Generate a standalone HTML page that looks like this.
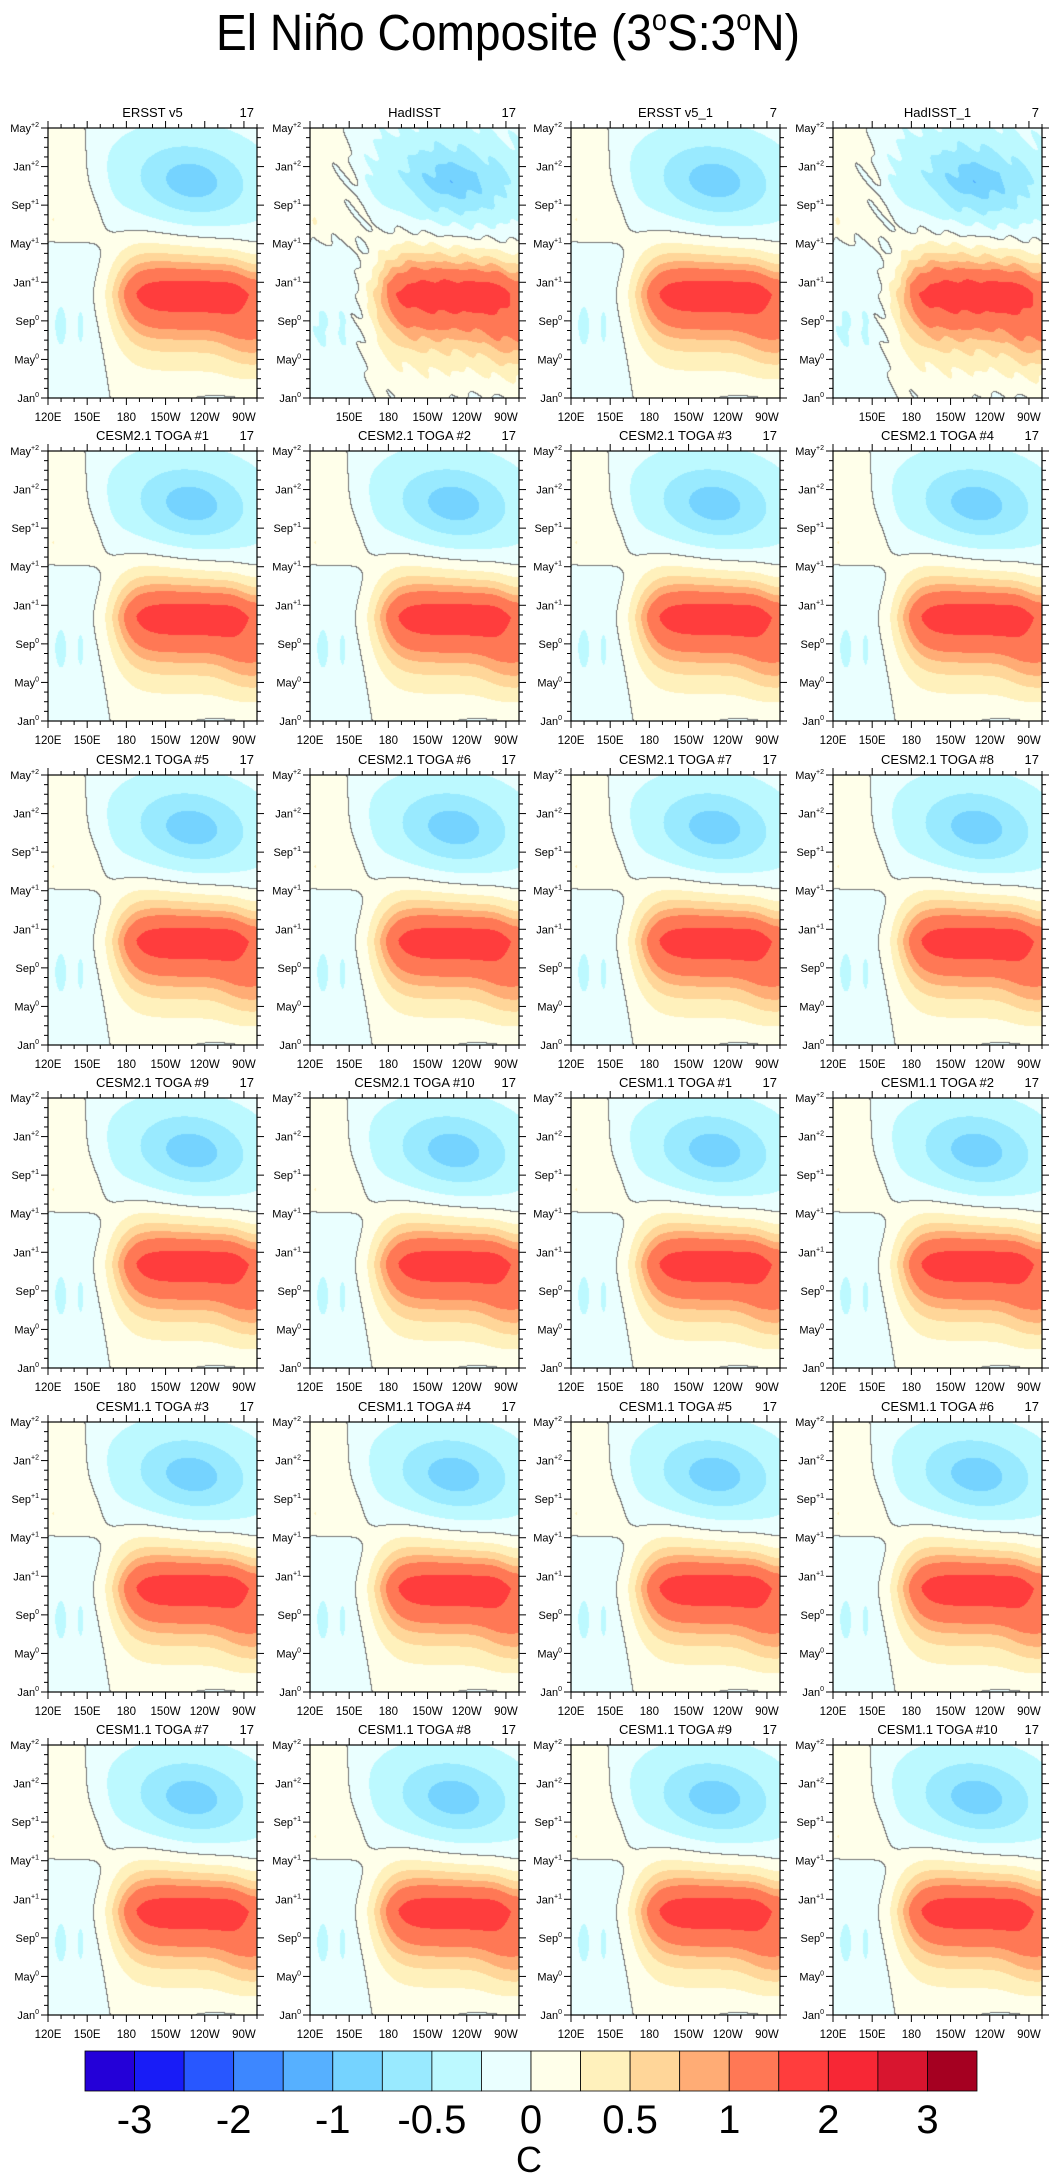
<!DOCTYPE html>
<html><head><meta charset="utf-8">
<style>
html,body{margin:0;padding:0;background:#fff;}
#root{position:relative;width:1058px;height:2179px;overflow:hidden;font-family:"Liberation Sans",sans-serif;}
canvas{position:absolute;}
svg{position:absolute;left:0;top:0;}
</style></head>
<body>
<div id="root">
<svg id="ov" width="1058" height="2179"></svg>
</div>
<script>
// ---- data ----
const panelTitles = ["ERSST v5","HadISST","ERSST v5_1","HadISST_1",
 "CESM2.1 TOGA #1","CESM2.1 TOGA #2","CESM2.1 TOGA #3","CESM2.1 TOGA #4",
 "CESM2.1 TOGA #5","CESM2.1 TOGA #6","CESM2.1 TOGA #7","CESM2.1 TOGA #8",
 "CESM2.1 TOGA #9","CESM2.1 TOGA #10","CESM1.1 TOGA #1","CESM1.1 TOGA #2",
 "CESM1.1 TOGA #3","CESM1.1 TOGA #4","CESM1.1 TOGA #5","CESM1.1 TOGA #6",
 "CESM1.1 TOGA #7","CESM1.1 TOGA #8","CESM1.1 TOGA #9","CESM1.1 TOGA #10"];
const panelCounts = [17,17,7,7,17,17,17,17,17,17,17,17,17,17,17,17,17,17,17,17,17,17,17,17];
const contourLevels = [-3,-2.5,-2,-1.5,-1,-0.75,-0.5,-0.25,0,0.25,0.5,0.75,1,1.5,2,2.5,3];
const levelColors = ["#2400D8","#181CF7","#2857FF","#3D87FF","#56B0FF","#75D3FF","#99EAFF","#BCF9FF","#EAFFFF",
 "#FFFFEA","#FFF1BC","#FFD699","#FFAC75","#FF7855","#FF3D3D","#F72735","#D8152F","#A50021"];
const colorbarLabels = ["-3","-2","-1","-0.5","0","0.5","1","2","3"];
const colorbarLabelValues = [-3,-2,-1,-0.5,0,0.5,1,2,3];
const lonTicks = [120,150,180,210,240,270];
const lonTickLabels = ["120E","150E","180","150W","120W","90W"];
const monthTicks = [0,4,8,12,16,20,24,28];
const monthTickNames = ["Jan","May","Sep","Jan","May","Sep","Jan","May"];
const monthTickSup = ["0","0","0","+1","+1","+1","+2","+2"];
// El Nino warm peak / La Nina cold peak (amplitude C, lon, month)
const warmPeak = [1.9, 177, 10.8];
const coldPeak = [-0.85, 230, 22.5];
// small secondary anomalies (lon deg E, month index, amplitude C, lon width, month width)
const blobLon   = [278, 130, 145, 250, 123, 124];
const blobMonth = [6, 7.5, 7.5, -0.8, 9, 18.5];
const blobAmp   = [0.45, -0.24, -0.22, -0.18, -0.05, 0.16];
const blobLonW  = [20, 5, 3.5, 30, 3, 3];
const blobMonW  = [3.5, 2.5, 2.5, 1.2, 6, 0.8];

// ---- layout ----
const LON0=120, LON1=280, T0=0, T1=28;
const PW=209, PH=270;
const colLeft = c => 48 + 261.7*c;
const rowTop = r => 128 + 323.4*r;
const NS="http://www.w3.org/2000/svg";
const ov=document.getElementById('ov');
const root=document.getElementById('root');
function el(tag, attrs, parent){const e=document.createElementNS(NS,tag);for(const k in attrs)e.setAttribute(k,attrs[k]);(parent||ov).appendChild(e);return e;}
const sig=x=>1/(1+Math.exp(-x));

function field(lon,t,p){
  // warm event
  const gW=sig((lon-warmPeak[1])/8)*(1-0.3*sig((lon-268)/4));
  const dt=t-warmPeak[2];
  const w=dt<0?5.0:(4.0-(lon-180)/100*0.8);
  let v=warmPeak[0]*gW*Math.exp(-Math.pow(Math.abs(dt/w),1.5));
  // cold event
  const tc=coldPeak[2]-(lon-coldPeak[1])*0.012;
  const cx=(lon-coldPeak[1])/48, ct=(t-tc)/4.3;
  v+=coldPeak[0]*Math.exp(-Math.pow(cx*cx+ct*ct,0.75));
  v+=-0.1*sig((t-(17.2-(lon-180)*0.012))/0.6)*sig((lon-(165-(t-20)*1.5))/4);
  // west pacific
  const s=sig((163-lon)/3), early=sig((16-t)/0.6);
  const sLate=sig((163-Math.max(0,t-20)*1.6-lon)/3);
  v+=-0.12*s*early+0.12*sLate*(1-early);
  for(let i=0;i<blobLon.length;i++){
    const dx=(lon-blobLon[i])/blobLonW[i], dd=(t-blobMonth[i])/blobMonW[i];
    v+=blobAmp[i]*Math.exp(-(dx*dx+dd*dd));
  }
  if(p===1||p===3){v+=0.07*Math.sin(lon*0.35+t*1.7)*Math.cos(t*0.9+lon*0.05);}
  return v;
}
function colorIdx(v){let i=0;while(i<contourLevels.length&&v>=contourLevels[i])i++;return i;}
function hex(h){return [parseInt(h.substr(1,2),16),parseInt(h.substr(3,2),16),parseInt(h.substr(5,2),16)];}
const rgb=levelColors.map(hex);

for(let p=0;p<24;p++){
  const r=Math.floor(p/4), c=p%4;
  const L=Math.round(colLeft(c)), T=Math.round(rowTop(r));
  const cv=document.createElement('canvas');
  cv.width=PW;cv.height=PH;cv.style.left=L+'px';cv.style.top=T+'px';
  
  
  root.insertBefore(cv,ov);
  const ctx=cv.getContext('2d');
  const img=ctx.createImageData(PW,PH);
  const vals=new Float32Array(PW*PH);
  for(let y=0;y<PH;y++){const t=T1-(y+0.5)/PH*(T1-T0);
    for(let x=0;x<PW;x++){const lon=LON0+(x+0.5)/PW*(LON1-LON0);vals[y*PW+x]=field(lon,t,p);}}
  for(let y=0;y<PH;y++)for(let x=0;x<PW;x++){
    const v=vals[y*PW+x];let col=rgb[colorIdx(v)];
    const a=v>=0, b=x+1<PW?vals[y*PW+x+1]>=0:a, d=y+1<PH?vals[(y+1)*PW+x]>=0:a;
    if(a!==b||a!==d)col=[120,120,120];
    const k=(y*PW+x)*4;img.data[k]=col[0];img.data[k+1]=col[1];img.data[k+2]=col[2];img.data[k+3]=255;}
  ctx.putImageData(img,0,0);

  const g=el('g',{});
  
  
  el('rect',{x:L,y:T,width:PW,height:PH,fill:'none',stroke:'#000','stroke-width':1.2},g);
  const xs=lon=>L+(lon-LON0)/(LON1-LON0)*PW;
  const ys=t=>T+(T1-t)/(T1-T0)*PH;
  for(let lon=120;lon<=280;lon+=10){
    const major=lonTicks.includes(lon), len=major?7:4, X=xs(lon);
    el('line',{x1:X,y1:T+PH,x2:X,y2:T+PH+len,stroke:'#000','stroke-width':1},g);
    el('line',{x1:X,y1:T,x2:X,y2:T-len,stroke:'#000','stroke-width':1},g);
  }
  lonTicks.forEach((lon,i)=>{
    if(r===0&&(c===1||c===3)&&i===0)return;
    const tx=el('text',{x:xs(lon),y:T+PH+23,'font-size':11.5,'text-anchor':'middle',fill:'#000'},g);
    tx.textContent=lonTickLabels[i];
    
    
  });
  for(let t=0;t<=28;t++){
    const major=monthTicks.includes(t), len=major?7:4, Y=ys(t);
    el('line',{x1:L,y1:Y,x2:L-len,y2:Y,stroke:'#000','stroke-width':1},g);
    el('line',{x1:L+PW,y1:Y,x2:L+PW+len,y2:Y,stroke:'#000','stroke-width':1},g);
  }
  monthTicks.forEach((t,i)=>{
    const tx=el('text',{x:L-9,y:ys(t)+4,'font-size':11,'text-anchor':'end',fill:'#000'},g);
    
    
    const a=el('tspan',{},tx);a.textContent=monthTickNames[i];
    const s=el('tspan',{'font-size':7,dy:-5},tx);s.textContent=monthTickSup[i];
  });
  const tt=el('text',{x:L+PW/2,y:T-11,'font-size':13,'text-anchor':'middle',fill:'#000'},g);
  tt.textContent=panelTitles[p];
  
  
  const tn=el('text',{x:L+PW-3,y:T-11,'font-size':13,'text-anchor':'end',fill:'#000'},g);
  tn.textContent=panelCounts[p];
  
  
}

// title
const ti=el('text',{x:216,y:50,'font-size':51,textLength:584,lengthAdjust:'spacingAndGlyphs',fill:'#000'});


ti.textContent="El Niño Composite (3";
{const s=el('tspan',{'font-size':30,dy:-20},ti);s.textContent="o";
 const s2=el('tspan',{dy:20},ti);s2.textContent="S:3";
 const s3=el('tspan',{'font-size':30,dy:-20},ti);s3.textContent="o";
 const s4=el('tspan',{dy:20},ti);s4.textContent="N)";}

// colorbar
const CB0=85, CB1=977, CBT=2051, CBH=40;
const bw=(CB1-CB0)/levelColors.length;
const cbg=el('g',{});


levelColors.forEach((col,i)=>{
  const rc=el('rect',{x:CB0+i*bw,y:CBT,width:bw,height:CBH,fill:col,stroke:'#000','stroke-width':0.8},cbg);
  
  
});
colorbarLabelValues.forEach((v,i)=>{
  const k=contourLevels.indexOf(v)+1;
  const tx=el('text',{x:CB0+k*bw,y:2133,'font-size':40,'text-anchor':'middle',fill:'#000'},cbg);
  tx.textContent=colorbarLabels[i];
  
  
});
const cu=el('text',{x:529,y:2172,'font-size':36,'text-anchor':'middle',fill:'#000'},cbg);
cu.textContent="C";


</script>
</body></html>
